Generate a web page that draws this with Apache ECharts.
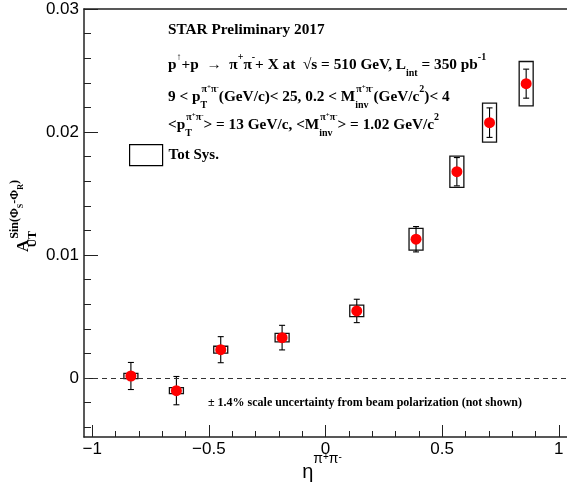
<!DOCTYPE html>
<html>
<head>
<meta charset="utf-8">
<script src="https://cdn.jsdelivr.net/npm/echarts@6/dist/echarts.min.js"></script>
<style>
  html, body { margin: 0; padding: 0; background: #fff; }
  #chart { width: 567px; height: 487px; }
</style>
</head>
<body>
<div id="chart"></div>
<script>
// eta bins and A_UT values
var eta = [-0.834, -0.639, -0.449, -0.186, 0.134, 0.388, 0.563, 0.703, 0.860];
var aut = [0.00016, -0.00103, 0.0023, 0.00328, 0.00545, 0.01128, 0.01677, 0.02076, 0.02393];
var statErr = [0.0011, 0.00115, 0.00106, 0.001, 0.00095, 0.00103, 0.00115, 0.0012, 0.00118];
var sysErr = [0.00022, 0.00025, 0.00028, 0.00034, 0.00047, 0.00088, 0.00127, 0.00159, 0.0018];
var etaSys = [0.03, 0.03, 0.03, 0.03, 0.03, 0.03, 0.03, 0.03, 0.03];

// tick positions
var xMajorTicks = [-1, -0.5, 0, 0.5, 1];
var xMinorTicks = [-1, -0.9, -0.8, -0.7, -0.6, -0.5, -0.4, -0.3, -0.2, -0.1, 0,
  0.1, 0.2, 0.3, 0.4, 0.5, 0.6, 0.7, 0.8, 0.9, 1];
var yMajorTicks = [0, 0.01, 0.02, 0.03];
var yMinorTicks = [-0.004, -0.002, 0, 0.002, 0.004, 0.006, 0.008, 0.01, 0.012, 0.014,
  0.016, 0.018, 0.02, 0.022, 0.024, 0.026, 0.028, 0.03];

var serif = 'Liberation Serif';
var sans = 'Liberation Sans';
var axisCol = '#222';

var pts = eta.map(function (x, i) { return [x, aut[i]]; });
var errs = eta.map(function (x, i) { return [x, aut[i], statErr[i]]; });
var boxes = eta.map(function (x, i) { return [x, aut[i], etaSys[i], sysErr[i]]; });

function fmt(v) {
  return (v < 0 ? '\u2212' : '') + Math.abs(v);
}

// text styles for the ROOT-like annotations
function tok(size, lh, va, extra) {
  var o = { fontFamily: serif, fontWeight: 'bold', fontSize: size, lineHeight: lh, color: '#000' };
  if (va) o.verticalAlign = va;
  for (var k in extra) o[k] = extra[k];
  return o;
}
var rich = {
  m: tok(15.3, 26),
  r: tok(15.3, 26, null, { color: '#ff0000' }),
  u: tok(10, 14, 'top'),
  uu: tok(7, 9, 'top'),
  d: tok(10, 12, 'bottom'),
  dn: tok(10, 12, 'bottom', { width: 1 })
};
var pipi = '{u|\u03c0}{uu|+}{u|\u03c0}{uu|-}';
var lines = [
  '{r|STAR Preliminary 2017}',
  '{m|p}{u|\u2191}{m|+p  \u2192  \u03c0}{u|+}{m|\u03c0}{u|-}{m|+ X at  \u221as = 510 GeV, L}{d|int}{m| = 350 pb}{u|-1}',
  '{m|9 < p}{dn|T}' + pipi + '{m|(GeV/c)< 25, 0.2 < M}{dn|inv}' + pipi + '{m|(GeV/c}{u|2}{m|)< 4}',
  '{m|<p}{dn|T}' + pipi + '{m|> = 13 GeV/c, <M}{dn|inv}' + pipi + '{m|> = 1.02 GeV/c}{u|2}'
];
var lineTops = [23, 52, 84, 112];

var graphics = lines.map(function (t, i) {
  return { type: 'text', left: 168, top: lineTops[i], style: { text: t, rich: rich } };
});
graphics.push({
  type: 'text', left: 208, top: 397,
  style: { text: '\u00b1 1.4% scale uncertainty from beam polarization (not shown)',
    font: 'bold 12px "Liberation Serif"', fill: '#000' }
});
// y axis title
graphics.push({
  type: 'text', x: 24, y: 216, rotation: Math.PI / 2,
  style: {
    text: '{a|A}{d|UT}{u|Sin(\u03a6}{s|S}{u|-\u03a6}{s|R}{u|)}',
    align: 'center', verticalAlign: 'middle',
    rich: {
      a: tok(17, 30),
      d: tok(12, 12, 'bottom', { width: 1 }),
      u: tok(12, 13, 'top'),
      s: tok(8, 9, 'top', { padding: [8, 0, 0, 0] })
    }
  }
});
// x axis title
graphics.push({
  type: 'text', x: 322, y: 472,
  style: {
    text: '{e|\u03b7}{p|\u03c0}{pp|+}{p|\u03c0}{pp|-}',
    align: 'center', verticalAlign: 'middle',
    rich: {
      e: { fontFamily: sans, fontSize: 20, lineHeight: 40, color: '#000' },
      p: { fontFamily: sans, fontSize: 14, lineHeight: 16, verticalAlign: 'top', color: '#000' },
      pp: { fontFamily: sans, fontSize: 10, lineHeight: 10, verticalAlign: 'top', color: '#000' }
    }
  }
});

var chart = echarts.init(document.getElementById('chart'));
chart.setOption({
  animation: false,
  backgroundColor: '#fff',
  grid: { left: 84, right: 0, top: 9, bottom: 50 },
  legend: {
    data: [{ name: 'Tot Sys.', icon: 'rect',
      itemStyle: { color: 'rgba(0,0,0,0)', borderColor: '#000', borderWidth: 1.2 } }],
    left: 129, top: 144, padding: 0, itemWidth: 33, itemHeight: 21, itemGap: 0,
    selectedMode: false,
    textStyle: { fontFamily: serif, fontWeight: 'bold', fontSize: 15, color: '#000', padding: [0, 0, 0, 1] }
  },
  xAxis: [
    {
      type: 'value', position: 'bottom', min: -1.035, max: 1.035,
      axisLine: { show: true, onZero: false, lineStyle: { color: axisCol, width: 1.5 } },
      axisTick: { show: true, inside: true, length: 12, customValues: xMajorTicks, lineStyle: { color: axisCol } },
      axisLabel: { customValues: xMajorTicks, formatter: fmt, margin: 4,
        fontFamily: sans, fontSize: 17, color: '#000' },
      splitLine: { show: false }
    },
    {
      type: 'value', position: 'bottom', min: -1.035, max: 1.035,
      axisLine: { show: false, onZero: false },
      axisTick: { show: true, inside: true, length: 6, customValues: xMinorTicks, lineStyle: { color: axisCol } },
      axisLabel: { show: false },
      splitLine: { show: false }
    },
    {
      type: 'value', position: 'top', min: -1.035, max: 1.035,
      axisLine: { show: true, onZero: false, lineStyle: { color: axisCol, width: 1.5 } },
      axisTick: { show: false }, axisLabel: { show: false }, splitLine: { show: false }
    }
  ],
  yAxis: [
    {
      type: 'value', position: 'left', min: -0.0048, max: 0.03,
      axisLine: { show: true, onZero: false, lineStyle: { color: axisCol, width: 1.5 } },
      axisTick: { show: true, inside: true, length: 14, customValues: yMajorTicks, lineStyle: { color: axisCol } },
      axisLabel: { customValues: yMajorTicks, formatter: fmt, margin: 5,
        fontFamily: sans, fontSize: 17, color: '#000' },
      splitLine: { show: false }
    },
    {
      type: 'value', position: 'left', min: -0.0048, max: 0.03,
      axisLine: { show: false, onZero: false },
      axisTick: { show: true, inside: true, length: 7, customValues: yMinorTicks, lineStyle: { color: axisCol } },
      axisLabel: { show: false },
      splitLine: { show: false }
    }
  ],
  graphic: graphics,
  series: [
    {
      name: 'Tot Sys.', type: 'custom', data: boxes, z: 3,
      renderItem: function (params, api) {
        var x = api.value(0), y = api.value(1), dx = api.value(2), dy = api.value(3);
        var a = api.coord([x - dx, y + dy]);
        var b = api.coord([x + dx, y - dy]);
        return { type: 'rect',
          shape: { x: a[0], y: a[1], width: b[0] - a[0], height: b[1] - a[1] },
          style: { fill: 'none', stroke: '#111', lineWidth: 1.3 } };
      }
    },
    {
      name: 'stat', type: 'custom', data: errs, z: 4,
      renderItem: function (params, api) {
        var x = api.value(0), y = api.value(1), e = api.value(2);
        var top = api.coord([x, y + e]);
        var bot = api.coord([x, y - e]);
        var st = { stroke: '#000', lineWidth: 1.1 };
        return { type: 'group', children: [
          { type: 'line', shape: { x1: top[0], y1: top[1], x2: bot[0], y2: bot[1] }, style: st },
          { type: 'line', shape: { x1: top[0] - 3, y1: top[1], x2: top[0] + 3, y2: top[1] }, style: st },
          { type: 'line', shape: { x1: bot[0] - 3, y1: bot[1], x2: bot[0] + 3, y2: bot[1] }, style: st }
        ] };
      }
    },
    {
      name: 'data', type: 'scatter', data: pts, z: 5,
      symbol: 'circle', symbolSize: 11,
      itemStyle: { color: '#ff0000', opacity: 1 },
      markLine: {
        silent: true, symbol: 'none', label: { show: false },
        lineStyle: { type: [5, 4], color: '#333', width: 1 },
        data: [{ yAxis: 0 }]
      }
    }
  ]
});
</script>
</body>
</html>
